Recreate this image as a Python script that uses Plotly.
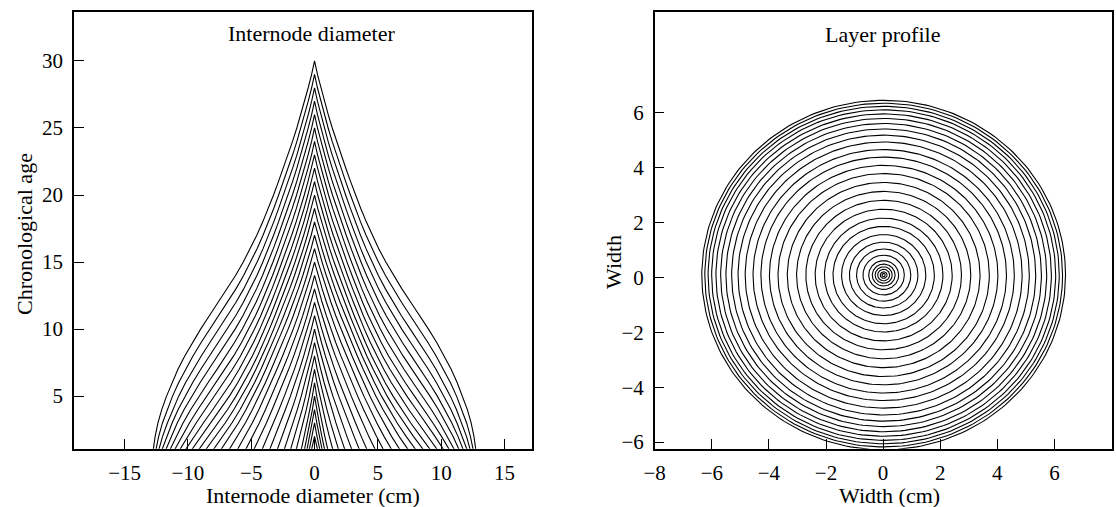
import numpy as np
import plotly.graph_objects as go

# ---------------- data ----------------
# chronological ages (y axis of left panel)
ages = list(range(1, 31))
# half-width (cm) of the outermost layer at each chronological age
outer_halfwidth = [12.74, 12.59, 12.37, 12.07, 11.69, 11.27, 10.79, 10.25, 9.65, 9.00,
                   8.31, 7.60, 6.90, 6.24, 5.63, 5.07, 4.56, 4.09, 3.65, 3.24,
                   2.85, 2.47, 2.10, 1.74, 1.40, 1.08, 0.78, 0.50, 0.23, 0.0]
# age at which each layer closes (top of its profile)
layer_top_age = list(range(1, 31))
# half-width of each layer at the base (age 1), inner -> outer
layer_base_halfwidth = [0.12, 0.24, 0.42, 0.6, 0.8, 1.05, 1.45, 1.9, 2.4, 2.95,
                        3.55, 4.15, 4.8, 5.45, 6.1, 6.75, 7.4, 8.0, 8.6, 9.15,
                        9.7, 10.2, 10.65, 11.05, 11.42, 11.75, 12.05, 12.3, 12.53, 12.74]
# ring centre of the layer profile (cm)
ring_center_x = 0.02
ring_center_y = 0.09

left_xticks = [-15, -10, -5, 0, 5, 10, 15]
left_yticks = [5, 10, 15, 20, 25, 30]
right_xticks = [-8, -6, -4, -2, 0, 2, 4, 6, 8]
right_yticks = [-6, -4, -2, 0, 2, 4, 6]

# ---------------- build left panel polylines ----------------
lx, ly = [], []
n = len(ages)
for t, b in zip(layer_top_age, layer_base_halfwidth):
    if t < 2:
        continue
    ref = outer_halfwidth[n - t]
    ys = ages[:t]
    xs = [b * outer_halfwidth[n - 1 - (t - y)] / ref for y in ys]
    # left side going up, right side coming down
    lx += [-x for x in xs] + xs[::-1][1:] + [None]
    ly += ys + ys[::-1][1:] + [None]

# ---------------- build right panel rings ----------------
theta = np.linspace(0, 2 * np.pi, 241)
rx, ry = [], []
for b in layer_base_halfwidth:
    r = b / 2.0
    rx += list(ring_center_x + r * np.cos(theta)) + [None]
    ry += list(ring_center_y + r * np.sin(theta)) + [None]

fig = go.Figure()
fig.add_trace(go.Scatter(x=lx, y=ly, mode="lines", line=dict(color="black", width=1.1),
                         xaxis="x", yaxis="y", hoverinfo="skip"))
fig.add_trace(go.Scatter(x=rx, y=ry, mode="lines", line=dict(color="black", width=1.1),
                         xaxis="x2", yaxis="y2", hoverinfo="skip"))

W, H = 1116, 507
FONT = "Liberation Serif, Times New Roman, serif"
tickfont = dict(family=FONT, size=21, color="black")

def ax(domain, rng, tickvals, standoff):
    return dict(domain=domain, range=rng, tickvals=tickvals, ticks="inside",
                ticklen=10, tickwidth=1.3, tickcolor="black", showline=True,
                linecolor="black", linewidth=1.5, mirror=True, showgrid=False,
                zeroline=False, tickfont=tickfont, ticklabelstandoff=standoff,
                automargin=False)

ydom = [1 - 448.7 / H, 1 - 12 / H]
fig.update_layout(
    width=W, height=H, margin=dict(l=0, r=0, t=0, b=0, autoexpand=False),
    paper_bgcolor="white", plot_bgcolor="white", showlegend=False,
    xaxis=ax([74 / W, 532.3 / W], [-19.0, 17.2], left_xticks, 4),
    yaxis=ax(ydom, [1.08, 33.65], left_yticks, 5),
    xaxis2=ax([654.7 / W, 1111.5 / W], [-8, 8], right_xticks, 4),
    yaxis2=ax(ydom, [-6.24, 9.68], right_yticks, 5),
)
fig.update_layout(xaxis2=dict(anchor="y2"), yaxis2=dict(anchor="x2"))

def ann(text, x, y, angle=0):
    fig.add_annotation(text=text, x=x / W, y=1 - y / H, xref="paper", yref="paper",
                       showarrow=False, xanchor="center", yanchor="middle",
                       textangle=angle, font=dict(family=FONT, size=22, color="black"))

ann("Internode diameter", 311, 33)
ann("Internode diameter (cm)", 313, 495)
ann("Chronological age", 24, 234, -90)
ann("Layer profile", 882, 34)
ann("Width (cm)", 889, 495)
ann("Width", 613, 262, -90)

fig.write_html("out.html",
               config={"displayModeBar": False},
               post_script="document.body.style.margin='0px';"
                           "document.documentElement.style.overflow='hidden';")
